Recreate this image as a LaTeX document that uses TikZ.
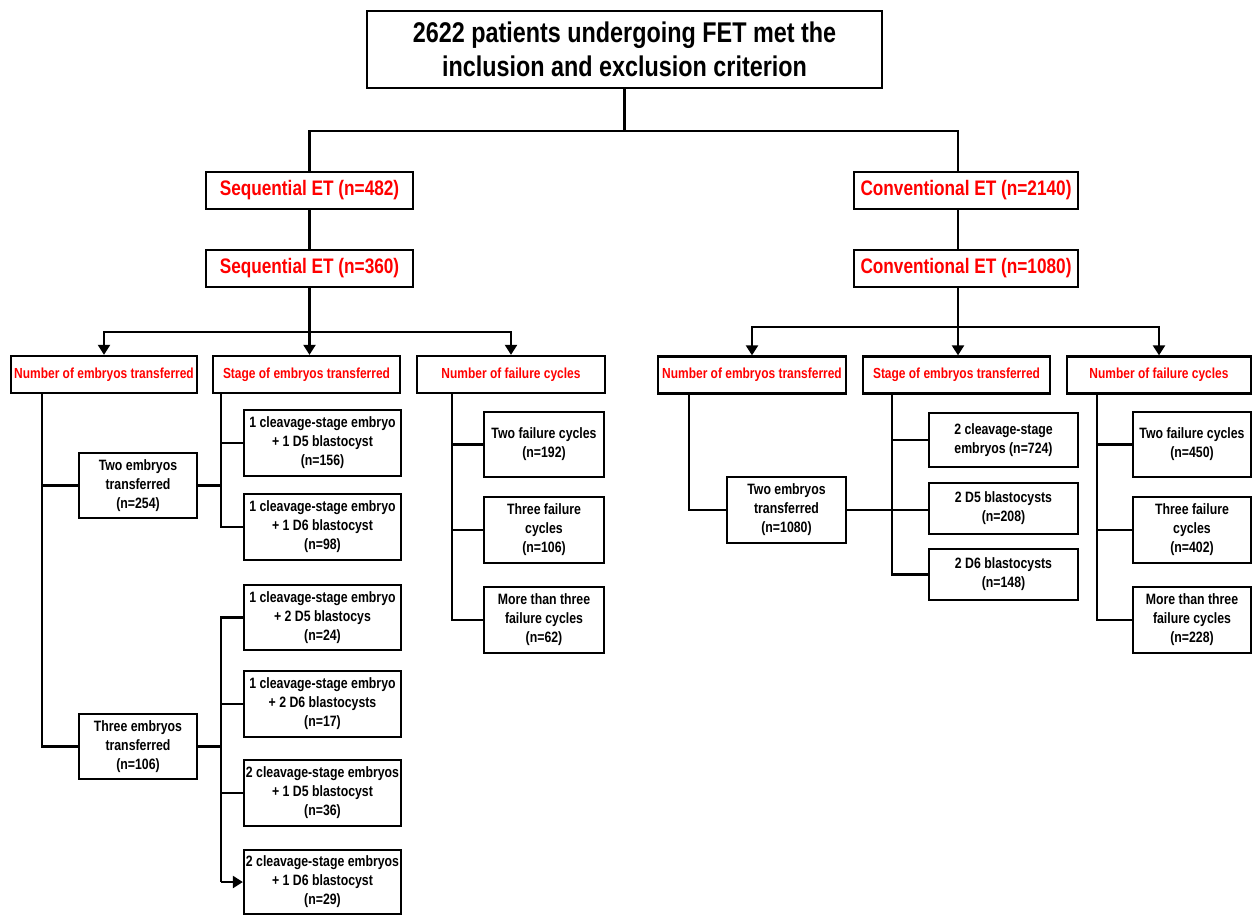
\documentclass[tikz,border=0pt]{standalone}
\usepackage{fontspec}
\setmainfont{Liberation Sans}[FakeStretch=0.82]
\usetikzlibrary{arrows.meta}
\begin{document}
\begin{tikzpicture}[x=1pt,y=-1pt,
  box/.style={draw, line width=2.3pt, fill=white, align=center, inner sep=0pt, font=\bfseries\fontsize{15}{19}\selectfont},
  sz/.style 2 args={minimum width=#1, minimum height=#2},
  redhead/.style={box, text=red, font=\bfseries\fontsize{21}{24}\selectfont},
  subhead/.style={box, text=red, font=\bfseries\fontsize{14.6}{17}\selectfont},
  conn/.style={line width=2.2pt},
  arr/.style={conn, -{Triangle[width=12pt,length=10pt]}}]
\useasboundingbox (0,0) rectangle (1252,916);
\fill[white] (0,0) rectangle (1252,916);

% top
\node[box, sz={515}{77}, font=\bfseries\fontsize{28.5}{34}\selectfont] (top) at (624.5,49.5) {2622 patients undergoing FET met the\\inclusion and exclusion criterion};
\node[redhead, sz={207}{37}] (seq1) at (309.5,190.5) {Sequential ET (n=482)};
\node[redhead, sz={207}{37}] (seq2) at (309.5,268.5) {Sequential ET (n=360)};
\node[redhead, sz={224}{37}] (con1) at (966,190.5) {Conventional ET (n=2140)};
\node[redhead, sz={224}{37}] (con2) at (966,268.5) {Conventional ET (n=1080)};

% left headers
\node[subhead, sz={186}{37}] (lh1) at (104,374.5) {Number of embryos transferred};
\node[subhead, sz={187}{37}] (lh2) at (306.5,374.5) {Stage of embryos transferred};
\node[subhead, sz={188}{37}] (lh3) at (511,374.5) {Number of failure cycles};
% right headers
\node[subhead, sz={188}{37}] (rh1) at (752,375) {Number of embryos transferred};
\node[subhead, sz={187}{37}] (rh2) at (956.5,375) {Stage of embryos transferred};
\node[subhead, sz={184}{37}] (rh3) at (1159,375) {Number of failure cycles};

% left children
\node[box, sz={118}{65}] (two1) at (138,485.5) {Two embryos\\transferred\\(n=254)};
\node[box, sz={118}{65}] (three1) at (138,746.5) {Three embryos\\transferred\\(n=106)};
\node[box, sz={157}{66}] (s156) at (322.5,443) {1 cleavage-stage embryo\\+ 1 D5 blastocyst\\(n=156)};
\node[box, sz={157}{66}] (s98) at (322.5,527) {1 cleavage-stage embryo\\+ 1 D6 blastocyst\\(n=98)};
\node[box, sz={157}{65}] (s24) at (322.5,617.5) {1 cleavage-stage embryo\\+ 2 D5 blastocys\\(n=24)};
\node[box, sz={157}{66}] (s17) at (322.5,704) {1 cleavage-stage embryo\\+ 2 D6 blastocysts\\(n=17)};
\node[box, sz={157}{66}] (s36) at (322.5,793) {2 cleavage-stage embryos\\+ 1 D5 blastocyst\\(n=36)};
\node[box, sz={157}{64}] (s29) at (322.5,882) {2 cleavage-stage embryos\\+ 1 D6 blastocyst\\(n=29)};
\node[box, sz={120}{65}] (f192) at (544,444.5) {Two failure cycles\\(n=192)};
\node[box, sz={120}{66}] (f106) at (544,530) {Three failure\\cycles\\(n=106)};
\node[box, sz={120}{66}] (f62) at (544,620) {More than three\\failure cycles\\(n=62)};

% right children
\node[box, sz={119}{66}] (two2) at (786.5,510) {Two embryos\\transferred\\(n=1080)};
\node[box, sz={149}{54}] (r724) at (1003.5,440) {2 cleavage-stage\\embryos (n=724)};
\node[box, sz={149}{51}] (r208) at (1003.5,508.5) {2 D5 blastocysts\\(n=208)};
\node[box, sz={149}{51}] (r148) at (1003.5,574.5) {2 D6 blastocysts\\(n=148)};
\node[box, sz={118}{65}] (f450) at (1192,444.5) {Two failure cycles\\(n=450)};
\node[box, sz={118}{66}] (f402) at (1192,530) {Three failure\\cycles\\(n=402)};
\node[box, sz={118}{66}] (f228) at (1192,620) {More than three\\failure cycles\\(n=228)};

% junction coordinates
\coordinate (tj) at (624,131);
\coordinate (lb) at (309,332);
\coordinate (rb) at (957,327);
\coordinate (lx) at (42,0);
\coordinate (sx) at (221,0);
\coordinate (fx) at (452,0);
\coordinate (rx) at (689,0);
\coordinate (rsx) at (892,0);
\coordinate (rfx) at (1097,0);
\coordinate (cx) at (958,0);

% top connectors
\draw[conn] (top.south) -- (top.south |- tj);
\draw[conn] (seq1.north) |- (tj) -| (cx |- con1.north);
\draw[conn] (seq1.south) -- (seq2.north);
\draw[conn] (cx |- con1.south) -- (cx |- con2.north);

% left branch
\draw[conn] (seq2.south) -- (seq2.south |- lb);
\draw[arr] (seq2.south |- lb) -- (seq2.south |- lh2.north);
\draw[arr] (seq2.south |- lb) -| (lh1.north);
\draw[arr] (seq2.south |- lb) -| (lh3.north);

% right branch
\draw[conn] (cx |- con2.south) -- (cx |- rb);
\draw[arr] (cx |- rb) -- (cx |- rh2.north);
\draw[arr] (cx |- rb) -| (rh1.north);
\draw[arr] (cx |- rb) -| (rh3.north);

% left: number of embryos
\draw[conn] (lx |- lh1.south) |- (three1.west);
\draw[conn] (lx |- two1.west) -- (two1.west);
% left: stage
\draw[conn] (sx |- lh2.south) |- (s98.west);
\draw[conn] (sx |- s156.west) -- (s156.west);
\draw[conn] (two1.east) -- (sx |- two1.east);
\draw[conn] (s24.west) -| (sx |- s29.west);
\draw[conn] (sx |- s17.west) -- (s17.west);
\draw[conn] (sx |- s36.west) -- (s36.west);
\draw[arr] (sx |- s29.west) -- (s29.west);
\draw[conn] (three1.east) -- (sx |- three1.east);
% left: failure
\draw[conn] (fx |- lh3.south) |- (f62.west);
\draw[conn] (fx |- f192.west) -- (f192.west);
\draw[conn] (fx |- f106.west) -- (f106.west);

% right: number of embryos
\draw[conn] (rx |- rh1.south) |- (two2.west);
\draw[conn] (two2.east) -- (two2.east -| r208.west);
% right: stage
\draw[conn] (rsx |- rh2.south) |- (r148.west);
\draw[conn] (rsx |- r724.west) -- (r724.west);
% right: failure
\draw[conn] (rfx |- rh3.south) |- (f228.west);
\draw[conn] (rfx |- f450.west) -- (f450.west);
\draw[conn] (rfx |- f402.west) -- (f402.west);
\end{tikzpicture}
\end{document}
